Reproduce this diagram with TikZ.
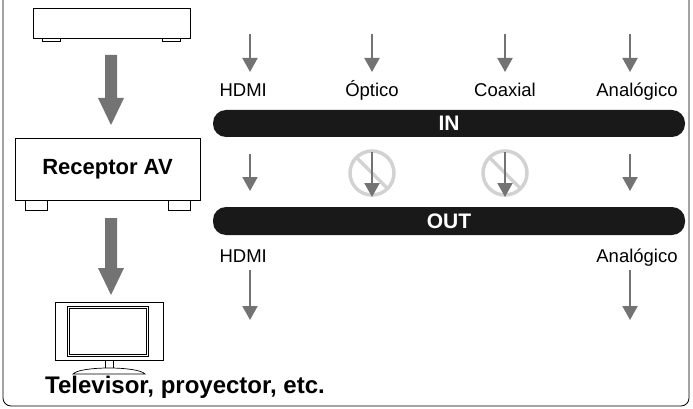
\documentclass[tikz,border=0pt]{standalone}
\usepackage{fontspec}
\setmainfont{Liberation Sans}
\begin{document}
\begin{tikzpicture}[x=1pt,y=-1pt,
 thin/.style={draw=gray!90!black,line width=2pt,-{Triangle[length=14pt,width=15pt]}},
 bar/.style={fill=black!90,rounded corners=13pt},
 lbl/.style={font=\fontsize{18.5}{20}\selectfont,anchor=base},
 dev/.style={draw,line width=0.8pt,fill=white}]
\usetikzlibrary{arrows.meta}
\useasboundingbox (0,0) rectangle (693,409);
\draw[line width=0.8pt,rounded corners=8pt] (3,-5) -- (3,406) -- (689,406) -- (689,-5);
% source device
\node[dev,minimum width=157pt,minimum height=30pt,inner sep=0pt] (src) at (111.5,23) {};
\draw[line width=0.7pt] (42,38) rectangle (60,41) (162,38) rectangle (180,41);
% receiver
\node[dev,minimum width=185pt,minimum height=62pt,inner sep=0pt,font=\bfseries\fontsize{22}{24}\selectfont] (rec) at (107.5,169) {Receptor AV};
\draw[line width=0.7pt] (25,200) rectangle (47,210) (168,200) rectangle (190,210);
% big arrows
\fill[gray!90!black] (105,55) rectangle (117,98) (98,98) -- (111,125) -- (124,98) -- cycle;
\fill[gray!90!black] (105,218) rectangle (117,268) (98,268) -- (111,295) -- (124,268) -- cycle;
% TV
\node[dev,minimum width=108pt,minimum height=58pt,inner sep=0pt] (tv) at (109,331) {};
\draw[line width=0.7pt] (67,306) rectangle (148,356) (69,308) rectangle (146,354);
\draw[line width=0.7pt] (105,360) rectangle (113,368);
\draw[line width=0.7pt,fill=white] (73,374) .. controls (80,366) and (138,366) .. (145,374) -- cycle;
\node[font=\bfseries\fontsize{24}{26}\selectfont] (tvl) at (185,387) {Televisor, proyector, etc.};
% bars
\node[bar,minimum width=472pt,minimum height=27pt] (in) at (449,123.5) {};
\node[text=white,font=\bfseries\fontsize{21}{24}\selectfont] at (in) {IN};
\node[bar,minimum width=472pt,minimum height=28pt] (out) at (449,221) {};
\node[text=white,font=\bfseries\fontsize{21}{24}\selectfont] at (out) {OUT};
% labels
\node[lbl,anchor=base west] (l1) at (216,97) {HDMI};
\node[lbl] (l2) at (372,97) {Óptico};
\node[lbl] (l3) at (505,97) {Coaxial};
\node[lbl] (l4) at (637,97) {Analógico};
\node[lbl,anchor=base west] (l5) at (216,262) {HDMI};
\node[lbl] (l6) at (637,262) {Analógico};
% thin arrows
\foreach \x in {250,372,505,630} \draw[thin] (\x,34) -- (\x,72);
\foreach \x in {250,630} {\draw[thin] (\x,154) -- (\x,191); \draw[thin] (\x,270) -- (\x,320);}
\foreach \x in {372,505} {
 \draw[gray!35,line width=3.5pt] (\x,173) circle (22);
 \draw[gray!35,line width=3.5pt] (\x-16,157) -- (\x+16,189);
 \draw[thin] (\x,152) -- (\x,197);}
\end{tikzpicture}
\end{document}
